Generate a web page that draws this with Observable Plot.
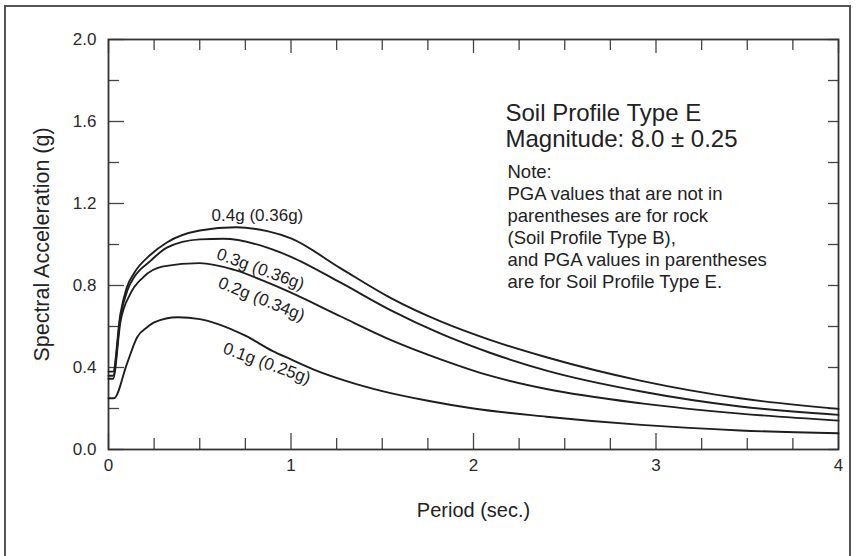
<!DOCTYPE html>
<html>
<head>
<meta charset="utf-8">
<script src="https://cdn.jsdelivr.net/npm/d3@7"></script>
<script src="https://cdn.jsdelivr.net/npm/@observablehq/plot@0.6"></script>
<style>
  html, body { margin: 0; padding: 0; background: #fff; }
  #wrap { position: relative; width: 856px; height: 556px; overflow: hidden; }
  #border { position: absolute; left: 4px; top: 5px; width: 847px; height: 600px; border: 2px solid #555; box-sizing: border-box; pointer-events: none; }
  #chart { position: absolute; left: 0; top: 0; }
</style>
</head>
<body>
<div id="wrap"><div id="chart"></div><div id="border"></div></div>
<script>
// ---- Data ----
const period04 = [0, 0.025, 0.065, 0.1, 0.14, 0.23, 0.32, 0.5, 0.7, 0.87, 1.0, 1.27, 1.545, 1.82, 2.09, 2.4, 2.92, 3.46, 4.0];
const accel04  = [0.38, 0.38, 0.66, 0.79, 0.86, 0.95, 1.01, 1.068, 1.084, 1.065, 1.03, 0.885, 0.74, 0.625, 0.535, 0.45, 0.335, 0.25, 0.198];

const period03 = [0, 0.025, 0.065, 0.105, 0.14, 0.23, 0.32, 0.5, 0.63, 0.87, 1.0, 1.27, 1.545, 1.82, 2.09, 2.4, 2.92, 3.46, 4.0];
const accel03  = [0.36, 0.36, 0.645, 0.78, 0.84, 0.92, 0.985, 1.025, 1.028, 0.985, 0.94, 0.815, 0.68, 0.565, 0.472, 0.385, 0.283, 0.21, 0.169];

const period02 = [0, 0.025, 0.065, 0.12, 0.19, 0.3, 0.5, 0.69, 0.87, 1.0, 1.27, 1.545, 1.82, 2.09, 2.4, 2.92, 3.46, 4.0];
const accel02  = [0.345, 0.345, 0.62, 0.76, 0.84, 0.893, 0.909, 0.876, 0.815, 0.765, 0.65, 0.535, 0.44, 0.36, 0.295, 0.225, 0.175, 0.141];

const period01 = [0, 0.03, 0.1, 0.157, 0.21, 0.25, 0.38, 0.5, 0.6, 0.75, 0.9, 1.0, 1.125, 1.3, 1.5, 1.75, 2.0, 2.4, 2.92, 3.46, 4.0];
const accel01  = [0.25, 0.25, 0.415, 0.548, 0.595, 0.62, 0.645, 0.636, 0.612, 0.555, 0.48, 0.44, 0.39, 0.335, 0.285, 0.238, 0.2, 0.16, 0.12, 0.093, 0.079];

const seriesNames = ["0.4g", "0.3g", "0.2g", "0.1g"];

const labelTexts  = ["0.4g (0.36g)", "0.3g (0.36g)", "0.2g (0.34g)", "0.1g (0.25g)"];
const labelPeriod = [0.816, 0.833, 0.838, 0.868];
const labelAccel  = [1.141, 0.88, 0.734, 0.42];
const labelAngle  = [0, 20, 22, 20];

const xMajorTicks = [0, 1, 2, 3, 4];
const xMinorTicks = [0.25, 0.5, 0.75, 1.25, 1.5, 1.75, 2.25, 2.5, 2.75, 3.25, 3.5, 3.75];
const yMajorTicks = [0, 0.4, 0.8, 1.2, 1.6, 2.0];
const yMinorTicks = [0.2, 0.6, 1.0, 1.4, 1.8];

const headline = "Soil Profile Type E\nMagnitude: 8.0 \u00B1 0.25";
const noteText = "Note:\nPGA values that are not in\nparentheses are for rock\n(Soil Profile Type B),\nand PGA values in parentheses\nare for Soil Profile Type E.";

// ---- Build tables ----
const curves = [
  [period04, accel04], [period03, accel03], [period02, accel02], [period01, accel01]
];
const rows = curves.flatMap(([p, a], i) => p.map((t, j) => ({series: seriesNames[i], period: t, accel: a[j]})));
const labels = labelTexts.map((text, i) => ({text, period: labelPeriod[i], accel: labelAccel[i], angle: labelAngle[i]}));

const W = 856, H = 556, mL = 108, mR = 18, mT = 39, mB = 107;
const plotW = W - mL - mR, plotH = H - mT - mB;
const ink = "#2a2a2a";

const chart = Plot.plot({
  width: W, height: H,
  marginLeft: mL, marginRight: mR, marginTop: mT, marginBottom: mB,
  style: {fontFamily: "'Liberation Sans', Arial, sans-serif", fontSize: "17px", color: ink, background: "#fff"},
  x: {domain: [0, 4]},
  y: {domain: [0, 2]},
  marks: [
    // inward ticks
    Plot.tickX(xMinorTicks, {x: d => d, insetTop: plotH - 11, stroke: "#444", strokeWidth: 1.3}),
    Plot.tickX(xMajorTicks, {x: d => d, insetTop: plotH - 16, stroke: "#444", strokeWidth: 1.3}),
    Plot.tickX(xMinorTicks, {x: d => d, insetBottom: plotH - 11, stroke: "#444", strokeWidth: 1.3}),
    Plot.tickX(xMajorTicks, {x: d => d, insetBottom: plotH - 14, stroke: "#444", strokeWidth: 1.3}),
    Plot.tickY(yMinorTicks, {y: d => d, insetRight: plotW - 11, stroke: "#444", strokeWidth: 1.3}),
    Plot.tickY(yMajorTicks, {y: d => d, insetRight: plotW - 16, stroke: "#444", strokeWidth: 1.3}),
    Plot.tickY([...yMinorTicks, ...yMajorTicks], {y: d => d, insetLeft: plotW - 10, stroke: "#444", strokeWidth: 1.3}),
    Plot.frame({stroke: "#333", strokeWidth: 1.8}),
    Plot.axisX({ticks: xMajorTicks, tickSize: 0, tickPadding: 9, tickFormat: d => String(d), label: null, fontSize: 17}),
    Plot.axisY({ticks: yMajorTicks, tickSize: 0, tickPadding: 12, tickFormat: d3.format(".1f"), label: null, fontSize: 17}),
    // curves
    Plot.line(rows, {x: "period", y: "accel", z: "series", stroke: "#1e1e1e", strokeWidth: 1.9, curve: "monotone-x"}),
    // curve labels
    Plot.text(labels.filter(d => d.angle === 0), {x: "period", y: "accel", text: "text", fontSize: 17, fill: "#1e1e1e"}),
    Plot.text(labels.filter(d => d.angle !== 0), {x: "period", y: "accel", text: "text", rotate: "angle", fontSize: 17, fill: "#1e1e1e", ariaLabel: "rotated-label"}),
    // annotations
    Plot.text([headline], {frameAnchor: "top-left", dx: 397, dy: 63, text: d => d, textAnchor: "start", lineAnchor: "top", lineHeight: 1.08, fontSize: 24, fill: "#222"}),
    Plot.text([noteText], {frameAnchor: "top-left", dx: 399, dy: 123, text: d => d, textAnchor: "start", lineAnchor: "top", lineHeight: 1.19, fontSize: 18.5, fill: "#222"}),
    // axis titles
    Plot.text(["Spectral Acceleration (g)"], {frameAnchor: "left", dx: -66, rotate: -90, text: d => d, textAnchor: "middle", lineAnchor: "middle", fontSize: 21.5, fill: "#222"}),
    Plot.text(["Period (sec.)"], {frameAnchor: "bottom", dy: 61, text: d => d, textAnchor: "middle", lineAnchor: "middle", fontSize: 20, fill: "#222"})
  ]
});

// italicize the parenthetical PGA values on the rotated labels
chart.querySelectorAll('g[aria-label="rotated-label"] text').forEach(t => {
  const m = t.textContent.match(/^(\S+) (\(.*\))$/);
  if (!m) return;
  t.textContent = "";
  const a = document.createElementNS("http://www.w3.org/2000/svg", "tspan");
  a.textContent = m[1] + "\u00A0";
  const b = document.createElementNS("http://www.w3.org/2000/svg", "tspan");
  b.textContent = m[2];
  b.setAttribute("font-style", "italic");
  t.appendChild(a); t.appendChild(b);
});

document.getElementById("chart").appendChild(chart);
</script>
</body>
</html>
